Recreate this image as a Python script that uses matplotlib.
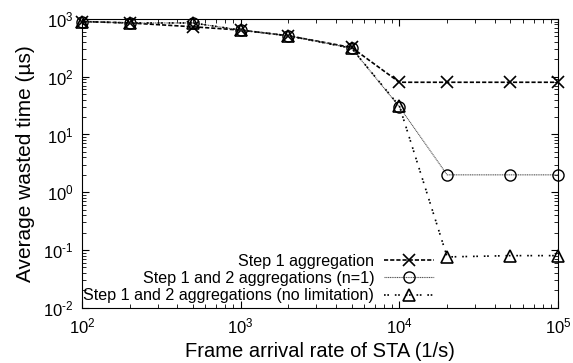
import matplotlib
matplotlib.use("Agg")
import matplotlib.pyplot as plt
from matplotlib.ticker import LogLocator, NullFormatter, FuncFormatter
import math

plt.rcParams['font.family'] = ['Liberation Sans', 'DejaVu Sans']
plt.rcParams['mathtext.fontset'] = 'custom'
plt.rcParams['mathtext.rm'] = 'Liberation Sans'
plt.rcParams['axes.unicode_minus'] = False

x = [100, 200, 500, 1000, 2000, 5000, 10000, 20000, 50000, 100000]
step1 = [900, 850, 730, 640, 510, 320, 80, 80, 80, 80]
step12_n1 = [900, 850, 850, 640, 510, 310, 30, 2.0, 2.0, 2.0]
step12_nolim = [900, 850, 850, 640, 510, 310, 31, 0.076, 0.08, 0.08]
labels = ["Step 1 aggregation", "Step 1 and 2 aggregations (n=1)",
          "Step 1 and 2 aggregations (no limitation)"]

fig = plt.figure(figsize=(5.73, 3.63), dpi=100)
ax = fig.add_axes([0.143, 0.152, 0.831, 0.796])

ax.plot(x, step1, color='black', linestyle=(0, (2.5, 1.2)), lw=1.2, marker='x',
        ms=8, mew=1.2, label=labels[0], clip_on=False, zorder=3)
ax.plot(x, step12_n1, color='#555555', linestyle=(0, (1, 0.6)), lw=0.8, marker='o',
        ms=8, mfc='none', mec='black', mew=1.0, label=labels[1], clip_on=False, zorder=3)
ax.plot(x, step12_nolim, color='black', linestyle=(0, (1, 1, 1, 3.5)), lw=1.2, marker='^',
        ms=8, mfc='none', mec='black', mew=1.2, label=labels[2], clip_on=False, zorder=3)

ax.set_xscale('log')
ax.set_yscale('log')
ax.set_xlim(100, 100000)
ax.set_ylim(0.01, 1000)


def fmt(v, pos):
    e = int(round(math.log10(v)))
    return r"$\mathregular{10^{%s}}$" % (str(e) if e >= 0 else "\\text{-}%d" % (-e))


ax.xaxis.set_major_locator(LogLocator(base=10, numticks=10))
ax.yaxis.set_major_locator(LogLocator(base=10, numticks=10))
ax.xaxis.set_minor_locator(LogLocator(base=10, subs=range(2, 10), numticks=20))
ax.yaxis.set_minor_locator(LogLocator(base=10, subs=range(2, 10), numticks=20))
ax.xaxis.set_major_formatter(FuncFormatter(fmt))
ax.yaxis.set_major_formatter(FuncFormatter(fmt))
ax.xaxis.set_minor_formatter(NullFormatter())
ax.yaxis.set_minor_formatter(NullFormatter())
ax.tick_params(which='both', direction='in', top=True, right=True, labelsize=12)
ax.tick_params(which='major', length=5, width=0.8, pad=6)
ax.tick_params(which='minor', length=3, width=0.6)

ax.set_xlabel("Frame arrival rate of STA (1/s)", fontsize=14.5, labelpad=4)
ax.set_ylabel("Average wasted time (\u00b5s)", fontsize=15, labelpad=6)

ax.legend(loc='lower right', bbox_to_anchor=(0.746, 0.005), frameon=False, markerfirst=False,
          fontsize=11.6, handlelength=3.1, labelspacing=0.14, borderaxespad=0, borderpad=0.2,
          handletextpad=0.6)

fig.savefig("out.png", dpi=100)
